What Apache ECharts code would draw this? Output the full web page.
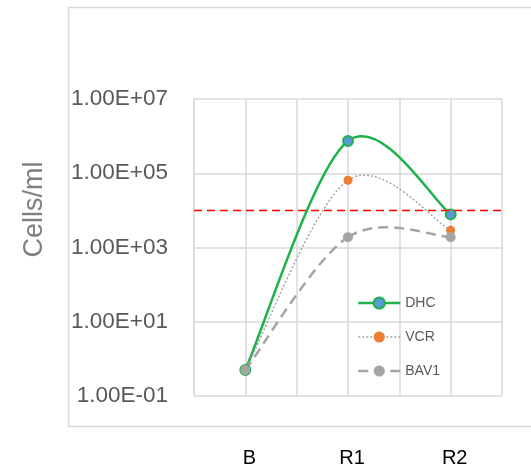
<!DOCTYPE html>
<html>
<head>
<meta charset="utf-8">
<script src="https://cdn.jsdelivr.net/npm/echarts@6/dist/echarts.min.js"></script>
<style>html,body{margin:0;padding:0;background:#fff;}#chart{width:531px;height:469px;}</style>
</head>
<body>
<div id="chart"></div>
<script>
const categories = ['B', 'R1', 'R2'];
const dhc = [0.5, 740000, 7800];
const vcr = [0.5, 65000, 2900];
const bav1 = [0.5, 1900, 1900];
const threshold = 10000;
const yMin = 0.1, yMax = 1e7;

const FONT = "'Liberation Sans', Arial, sans-serif";

const styles = {
  DHC: {line: {color: '#1fb14c', width: 2.5, type: 'solid'}, dash: null,
        item: {color: '#5b9bd5', borderColor: '#1fb14c', borderWidth: 2}, size: 10},
  VCR: {line: {color: '#a5a5a5', width: 1.5, type: [2, 2]}, dash: [2, 2],
        item: {color: '#ed7d31'}, size: 9},
  BAV1: {line: {color: '#a5a5a5', width: 2.5, type: [10, 6]}, dash: [10, 6],
        item: {color: '#a5a5a5'}, size: 10}
};

function pts(arr) { return arr.map((v, i) => [2 * i + 1, v]); }
function fmtE(v) {
  const e = Math.round(Math.log10(v));
  const s = e < 0 ? '-' : '+';
  const a = Math.abs(e);
  return '1.00E' + s + (a < 10 ? '0' : '') + a;
}

// Excel-like smooth curve (Catmull-Rom style bezier) drawn through the axis scales
function curveSeries(name, arr) {
  const st = styles[name];
  return {
    name: name + ' curve', type: 'custom', z: 1, silent: true,
    data: pts(arr), encode: {x: 0, y: 1},
    renderItem: function (params, api) {
      if (params.dataIndex !== 0) return null;
      const p = pts(arr).map(d => api.coord(d));
      const n = p.length, k = 1 / 6;
      const children = [];
      for (let i = 0; i < n - 1; i++) {
        const p0 = p[Math.max(i - 1, 0)], p1 = p[i], p2 = p[i + 1], p3 = p[Math.min(i + 2, n - 1)];
        children.push({
          type: 'bezierCurve',
          shape: {
            x1: p1[0], y1: p1[1], x2: p2[0], y2: p2[1],
            cpx1: p1[0] + (p2[0] - p0[0]) * k, cpy1: p1[1] + (p2[1] - p0[1]) * k,
            cpx2: p2[0] - (p3[0] - p1[0]) * k, cpy2: p2[1] - (p3[1] - p1[1]) * k
          },
          style: {fill: null, stroke: st.line.color, lineWidth: st.line.width, lineDash: st.dash}
        });
      }
      return {type: 'group', children: children};
    }
  };
}

function markerSeries(name, arr, extra) {
  const st = styles[name];
  return Object.assign({
    name: name, type: 'line', z: 3, data: pts(arr),
    symbol: 'circle', symbolSize: st.size,
    itemStyle: st.item,
    lineStyle: Object.assign({}, st.line, {opacity: 0})
  }, extra || {});
}

const chart = echarts.init(document.getElementById('chart'), null, {renderer: 'canvas'});
chart.setOption({
  animation: false,
  backgroundColor: '#fff',
  graphic: [{
    type: 'rect', left: 66, top: 5, shape: {width: 480, height: 419},
    style: {fill: 'none', stroke: '#d9d9d9', lineWidth: 1.5}, silent: true, z: -1
  }],
  grid: {left: 194, right: 29, top: 99, bottom: 73},
  legend: {
    orient: 'vertical', left: 352, top: 291, itemWidth: 42, itemHeight: 14, itemGap: 20,
    textStyle: {fontFamily: FONT, fontSize: 14, color: '#595959'},
    data: ['DHC', 'VCR', 'BAV1'].map(n => ({name: n, lineStyle: Object.assign({}, styles[n].line, {opacity: 1})}))
  },
  xAxis: {
    type: 'value', min: 0, max: 6, interval: 1,
    axisLine: {show: false}, axisTick: {show: false},
    splitLine: {show: true, lineStyle: {color: '#d9d9d9', width: 1.5}},
    axisLabel: {
      margin: 52, fontFamily: FONT, fontSize: 20, color: '#000',
      padding: [0, 0, 0, 8],
      formatter: v => (v % 2 === 1 ? categories[(v - 1) / 2] : '')
    }
  },
  yAxis: {
    type: 'log', logBase: 10, min: yMin, max: yMax, interval: 2,
    name: 'Cells/ml', nameLocation: 'middle', nameRotate: 90, nameGap: 146,
    nameTextStyle: {fontFamily: FONT, fontSize: 27, color: '#7f7f7f', padding: [0, 0, 0, 76]},
    axisLine: {show: true, lineStyle: {color: '#d9d9d9', width: 1.5}},
    axisTick: {show: false},
    splitLine: {show: true, lineStyle: {color: '#d9d9d9', width: 1.5}},
    axisLabel: {margin: 26, fontFamily: FONT, fontSize: 22.5, color: '#595959', formatter: fmtE}
  },
  series: [
    curveSeries('DHC', dhc),
    curveSeries('VCR', vcr),
    curveSeries('BAV1', bav1),
    markerSeries('DHC', dhc, {
      markLine: {
        silent: true, symbol: 'none', label: {show: false},
        lineStyle: {color: '#ff0000', type: [8, 5], width: 1.3, opacity: 1},
        data: [{yAxis: threshold}]
      }
    }),
    markerSeries('VCR', vcr),
    markerSeries('BAV1', bav1)
  ]
});
</script>
</body>
</html>
